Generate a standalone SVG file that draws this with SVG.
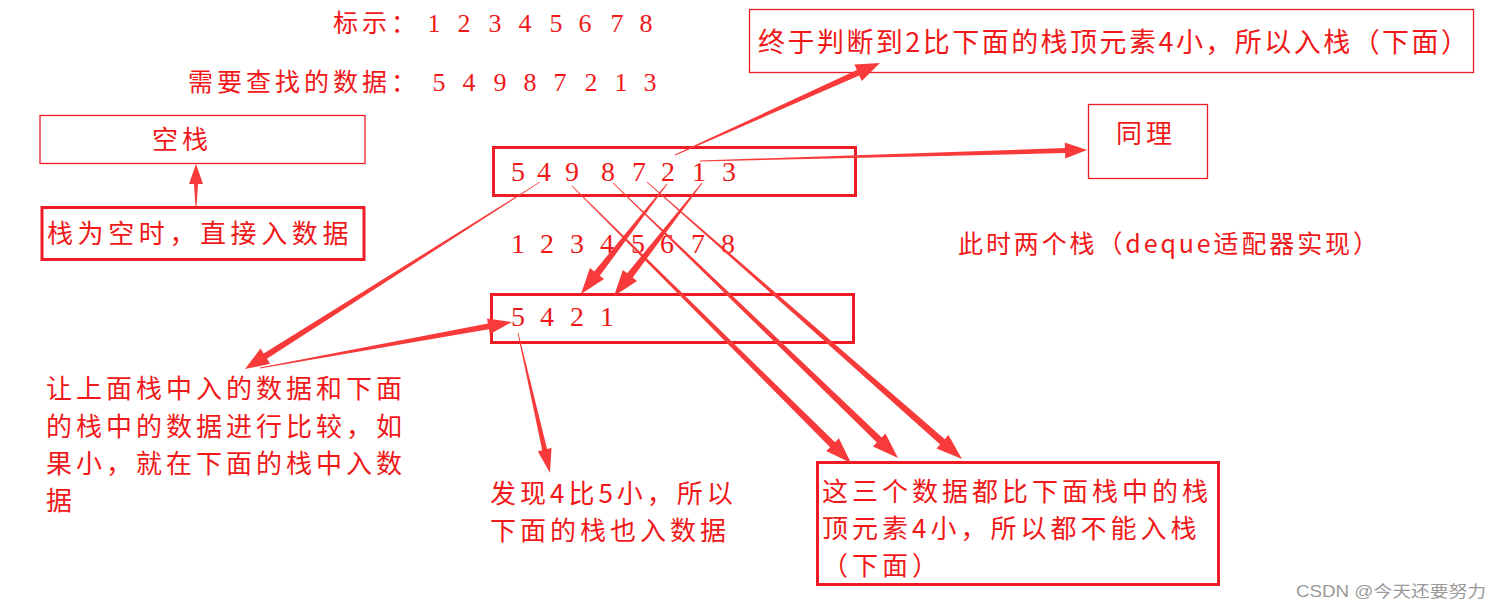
<svg xmlns="http://www.w3.org/2000/svg" width="1498" height="610" viewBox="0 0 1498 610">
<style>
.t{font-family:"Noto Sans CJK SC","Liberation Serif",serif;fill:#f01818;font-size:26px;letter-spacing:4px}
.d{font-family:"Liberation Serif","Noto Sans CJK SC",serif;fill:#f01818;font-size:28px;text-anchor:middle}
.thin{fill:none;stroke:#ed1c24;stroke-width:1.3}
.thick{fill:none;stroke:#ed1c24;stroke-width:3}
.ar{fill:#f83a3a;stroke:none}
.wm{font-family:"Liberation Sans","Noto Sans CJK SC",sans-serif;fill:#9a9a9a;font-size:16px}
</style>
<rect width="1498" height="610" fill="#fff"/>

<g id="header">
<text class="t" x="333" y="32" style="font-size:25px">标示：</text>
<text class="d" x="434 464 495 525 556 585 617 646" y="32" style="font-size:26px">12345678</text>
<text class="t" x="188" y="91" style="font-size:25px">需要查找的数据：</text>
<text class="d" x="439 469 500 530 560 591 621 650" y="91" style="font-size:26px">54987213</text>
</g>

<g id="empty-stack">
<rect class="thin" x="40" y="115.5" width="325" height="48"/>
<text class="t" x="152" y="149">空栈</text>
</g>

<g id="empty-note">
<rect class="thick" x="42" y="207.5" width="322" height="52"/>
<text class="t" x="47" y="243" style="letter-spacing:4.6px">栈为空时，直接入数据</text>
</g>

<g id="top-stack">
<rect class="thick" x="493.5" y="147.5" width="362" height="48"/>
<text class="d" x="518 544 572 608 639 668 699 729" y="181">54987213</text>
</g>

<g id="index-row">
<text class="d" x="518 547 577 607 638 667 698 728" y="253">12345678</text>
</g>

<g id="bottom-stack">
<rect class="thick" x="491.5" y="294.5" width="362" height="48"/>
<text class="d" x="518 547 577 607" y="326">5421</text>
</g>

<g id="finally-note">
<rect class="thin" x="749.5" y="9.5" width="724" height="63"/>
<text class="t" x="758" y="52" style="font-size:27px;letter-spacing:0" textLength="710" lengthAdjust="spacing">终于判断到2比下面的栈顶元素4小，所以入栈（下面）</text>
</g>

<g id="same-note">
<rect class="thin" x="1088.5" y="104.5" width="119" height="74"/>
<text class="t" x="1116" y="143">同理</text>
</g>

<g id="two-stacks-label">
<text class="t" x="958" y="253" style="font-size:25px;letter-spacing:0" textLength="420" lengthAdjust="spacing">此时两个栈（deque适配器实现）</text>
</g>

<g id="compare-note">
<text class="t" x="46" y="398">让上面栈中入的数据和下面</text>
<text class="t" x="46" y="436">的栈中的数据进行比较，如</text>
<text class="t" x="46" y="473">果小，就在下面的栈中入数</text>
<text class="t" x="46" y="510">据</text>
</g>

<g id="found-note">
<text class="t" x="490" y="503">发现4比5小，所以</text>
<text class="t" x="490" y="540">下面的栈也入数据</text>
</g>

<g id="three-note">
<rect class="thick" x="817.5" y="462.5" width="401" height="122"/>
<text class="t" x="822" y="501">这三个数据都比下面栈中的栈</text>
<text class="t" x="822" y="538">顶元素4小，所以都不能入栈</text>
<text class="t" x="822" y="575">（下面）</text>
</g>

<g id="connectors">
<polygon class="ar" points="196.5,207 198,184 203,184 196,164 189,184 194,184 195.5,207"/>
<polygon class="ar" points="675.2,155.5 859.3,75.5 861.8,81.0 880,63 854.4,64.6 856.9,70.1 674.8,154.5"/>
<polygon class="ar" points="700,161.5 1065.1,153.1 1065.2,158.6 1087,150 1064.8,142.6 1064.9,148.1 700,160.5"/>
<polygon class="ar" points="539.8,181.7 263.7,353.6 260.5,348.6 245,369 270.1,363.8 266.9,358.7 540.2,182.3"/>
<polygon class="ar" points="260.1,368.5 488.9,329.3 489.8,334.2 512,322 487.0,318.4 487.9,323.4 259.9,367.5"/>
<polygon class="ar" points="517.6,333.1 542.2,450.2 537.8,451.2 550,473 551.5,448.0 547.1,449.0 518.4,332.9"/>
<polygon class="ar" points="666.6,183.7 594.3,271.4 589.9,268.0 581,294 604.1,279.1 599.8,275.7 667.4,184.3"/>
<polygon class="ar" points="701.6,182.7 627.2,273.3 622.9,270.0 614,296 637.1,281.0 632.7,277.6 702.4,183.3"/>
<polygon class="ar" points="571.7,186.3 830.1,447.2 826.2,451.1 851,463 838.9,438.3 835.0,442.2 572.3,185.7"/>
<polygon class="ar" points="612.7,183.3 876.9,442.5 873.0,446.4 898,458 885.5,433.5 881.7,437.4 613.3,182.7"/>
<polygon class="ar" points="646.7,182.3 940.2,444.5 936.5,448.6 962,459 948.4,435.1 944.8,439.2 647.3,181.7"/>
</g>

<text class="wm" x="1296" y="597" textLength="190" lengthAdjust="spacingAndGlyphs">CSDN @今天还要努力</text>
</svg>
